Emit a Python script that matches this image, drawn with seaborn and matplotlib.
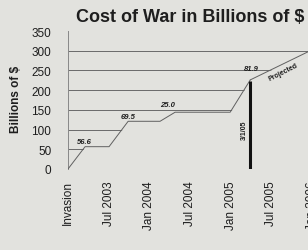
import matplotlib
matplotlib.use("Agg")
import matplotlib.pyplot as plt
import seaborn as sns
import pandas as pd

# cumulative cost of the war, x measured in quarters after the invasion
quarters = [0, 0.84, 2.02, 2.96, 4.53, 5.27, 7.98, 8.97]
cost = [0, 56.6, 56.6, 121, 121, 144, 144, 226]
proj_quarters = [8.97, 12.4]
proj_cost = [226, 312]
tick_quarters = [0, 2, 4, 6, 8, 10, 12]
tick_labels = ["Invasion", "Jul 2003", "Jan 2004", "Jul 2004", "Jan 2005", "Jul 2005", "Jan 2006"]
step_labels = ["56.6", "69.5", "25.0", "81.9"]
marker_quarter = 8.97
marker_cost = 222
marker_label = "3/1/05"

bg = "#e2e2de"
ink = "#1e1e1e"

sns.set_style("white", {"axes.facecolor": bg, "figure.facecolor": bg})
plt.rcParams["font.family"] = ["Liberation Sans", "DejaVu Sans"]

fig = plt.figure(figsize=(3.08, 2.51), dpi=100)
ax = fig.add_axes([68 / 308, 81 / 251, 254 / 308, 138 / 251])

df = pd.DataFrame({"quarter": quarters, "cost": cost})
proj = pd.DataFrame({"quarter": proj_quarters, "cost": proj_cost})

ax.set_xlim(0, 12.5)
ax.set_ylim(0, 350)
ax.set_yticks(range(0, 351, 50))

# gridlines sit behind the area, which is filled with the background colour
ax.set_axisbelow(True)
ax.yaxis.grid(True, color="#6a6a6a", linewidth=0.7)
gl = ax.get_ygridlines()
gl[0].set_visible(False)
gl[-1].set_visible(False)
all_x = quarters + proj_quarters[1:]
all_y = cost + proj_cost[1:]
ax.fill_between(all_x, all_y, color=bg, zorder=1.5, linewidth=0)

sns.lineplot(data=df, x="quarter", y="cost", ax=ax, color="#606060", linewidth=0.7, zorder=3)
sns.lineplot(data=proj, x="quarter", y="cost", ax=ax, color="#606060", linewidth=0.7, zorder=3)
ax.vlines(marker_quarter, 0, marker_cost, color="#111111", linewidth=2.2, zorder=4)

lab_kw = dict(fontsize=5.5, fontweight="bold", fontstyle="italic", color=ink, ha="center", va="center", zorder=5)
ax.text(0.79, 70, step_labels[0], **lab_kw)
ax.text(2.96, 133, step_labels[1], **lab_kw)
ax.text(4.88, 164, step_labels[2], **lab_kw)
ax.text(9.0, 256, step_labels[3], **lab_kw)
ax.text(10.6, 246, "Projected", fontsize=5, fontweight="bold", color=ink,
        ha="center", va="center", rotation=27, zorder=5)
ax.text(8.68, 100, marker_label, fontsize=5, fontweight="bold", color=ink,
        ha="center", va="center", rotation=90, zorder=5)

ax.set_xticks(tick_quarters)
ax.set_xticklabels(tick_labels, rotation=90, fontsize=8.5, color=ink)
ax.set_xticks(range(1, 13, 2), minor=True)
ax.tick_params(axis="y", labelsize=8.5, colors=ink, pad=12, direction="in", length=2, width=0.8)
ax.tick_params(axis="x", which="both", direction="out", length=1.2, width=1.5, colors="#777777", pad=7)
for t in ax.get_xticklabels():
    t.set_color(ink)
ax.set_xlabel("")
ax.set_ylabel("")

for s in ["top", "right", "bottom"]:
    ax.spines[s].set_visible(False)
ax.spines["left"].set_color("#888888")
ax.spines["left"].set_linewidth(0.7)

fig.text(190 / 308, 1 - 18 / 251, "Cost of War in Billions of $", fontsize=13, fontweight="bold",
         color=ink, ha="center", va="center")
fig.text(16 / 308, 1 - 99 / 251, "Billions of $", fontsize=8.5, fontweight="bold",
         color=ink, ha="center", va="center", rotation=90)

fig.savefig("out.png", dpi=100, facecolor=bg)
